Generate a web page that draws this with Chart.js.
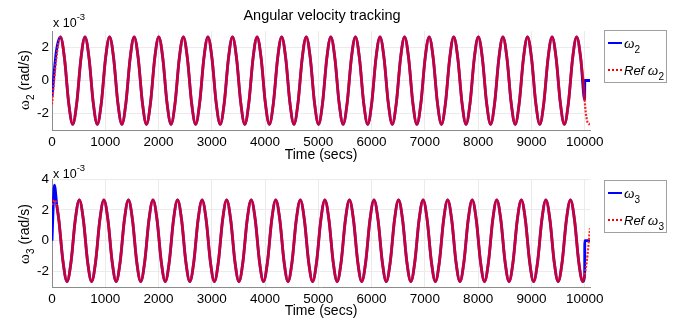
<!DOCTYPE html>
<html>
<head>
<meta charset="utf-8">
<script src="https://cdn.jsdelivr.net/npm/chart.js@4.4.1/dist/chart.umd.min.js"></script>
<style>
  html,body{margin:0;padding:0;background:#fff;}
  body{width:681px;height:322px;overflow:hidden;position:relative;font-family:"Liberation Sans",Arial,sans-serif;color:#000;}
  canvas{position:absolute;left:0;}
  #c1{top:0;}
  #c2{top:160px;}
  .txt{position:absolute;white-space:nowrap;line-height:16px;}
  .ctr{transform:translate(-50%,-50%);}
  .ytitle{position:absolute;white-space:nowrap;font-size:14px;line-height:16px;transform:translate(-50%,-50%) rotate(-90deg);}
  .om{font-family:"Liberation Serif",serif;font-size:15px;}
  .sb{font-size:10px;position:relative;top:5px;}
  .sp{font-size:9.5px;position:relative;top:-7px;}
  .lgbox{position:absolute;width:63px;height:53px;box-sizing:border-box;border:1px solid #a0a0a0;background:#fff;}
  .lgline{position:absolute;width:14px;height:0;}
  .lgtxt{position:absolute;white-space:nowrap;line-height:16px;font-style:italic;font-size:13px;}
</style>
</head>
<body>
<canvas id="c1" width="681" height="160"></canvas>
<canvas id="c2" width="681" height="162"></canvas>

<div class="txt ctr" style="left:322px;top:15px;font-size:14.5px;">Angular velocity tracking</div>

<div class="txt" style="left:53px;top:15px;font-size:12.5px;">x 10<span class="sp">-3</span></div>
<div class="txt" style="left:53px;top:166px;font-size:12.5px;">x 10<span class="sp">-3</span></div>

<div class="txt ctr" style="left:321px;top:154px;font-size:14px;">Time (secs)</div>
<div class="txt ctr" style="left:321px;top:310px;font-size:14px;">Time (secs)</div>

<div class="ytitle" style="left:25px;top:80px;"><span class="om">ω</span><span class="sb">2</span> (rad/s)</div>
<div class="ytitle" style="left:25px;top:234px;"><span class="om">ω</span><span class="sb">3</span> (rad/s)</div>

<div class="lgbox" style="left:604px;top:30px;"></div>
<div class="lgline" style="left:608px;top:42px;border-top:2.5px solid #0000ff;"></div>
<div class="lgtxt" style="left:624px;top:35px;"><span class="om">ω</span><span class="sb" style="font-style:normal">2</span></div>
<div class="lgline" style="left:608px;top:68.5px;border-top:2px dotted #ff0000;"></div>
<div class="lgtxt" style="left:624px;top:62px;">Ref <span class="om">ω</span><span class="sb" style="font-style:normal">2</span></div>

<div class="lgbox" style="left:604px;top:180px;"></div>
<div class="lgline" style="left:608px;top:192px;border-top:2.5px solid #0000ff;"></div>
<div class="lgtxt" style="left:624px;top:185px;"><span class="om">ω</span><span class="sb" style="font-style:normal">3</span></div>
<div class="lgline" style="left:608px;top:218.5px;border-top:2px dotted #ff0000;"></div>
<div class="lgtxt" style="left:624px;top:212px;">Ref <span class="om">ω</span><span class="sb" style="font-style:normal">3</span></div>

<script>
// ---------------- data (values in units of 1e-3 rad/s) ----------------
const xTicks = [0, 1000, 2000, 3000, 4000, 5000, 6000, 7000, 8000, 9000, 10000];
const yTicksTop = [-2, 0, 2];
const yTicksBottom = [-2, 0, 2, 4];

const timeTop = [
  0, 81,
  158, 235, 312, 389, 466, 543,
  619.5, 696.5, 773.5, 850.5, 927.5, 1004.5,
  1081, 1158, 1235, 1312, 1389, 1466,
  1542.5, 1619.5, 1696.5, 1773.5, 1850.5, 1927.5,
  2004, 2081, 2158, 2235, 2312, 2389,
  2465.5, 2542.5, 2619.5, 2696.5, 2773.5, 2850.5,
  2927, 3004, 3081, 3158, 3235, 3312,
  3388.5, 3465.5, 3542.5, 3619.5, 3696.5, 3773.5,
  3850, 3927, 4004, 4081, 4158, 4235,
  4311.5, 4388.5, 4465.5, 4542.5, 4619.5, 4696.5,
  4773, 4850, 4927, 5004, 5081, 5158,
  5234.5, 5311.5, 5388.5, 5465.5, 5542.5, 5619.5,
  5696, 5773, 5850, 5927, 6004, 6081,
  6157.5, 6234.5, 6311.5, 6388.5, 6465.5, 6542.5,
  6619, 6696, 6773, 6850, 6927, 7004,
  7080.5, 7157.5, 7234.5, 7311.5, 7388.5, 7465.5,
  7542, 7619, 7696, 7773, 7850, 7927,
  8003.5, 8080.5, 8157.5, 8234.5, 8311.5, 8388.5,
  8465, 8542, 8619, 8696, 8773, 8850,
  8926.5, 9003.5, 9080.5, 9157.5, 9234.5, 9311.5,
  9388, 9465, 9542, 9619, 9696, 9773,
  9849.5, 9926.5,
  10000, 10002, 10080, 10100
];

const omega2 = [
  -1.0, 1.75,
  2.65, 1.33, -1.33, -2.65, -1.33, 1.33,
  2.65, 1.33, -1.33, -2.65, -1.33, 1.33,
  2.65, 1.33, -1.33, -2.65, -1.33, 1.33,
  2.65, 1.33, -1.33, -2.65, -1.33, 1.33,
  2.65, 1.33, -1.33, -2.65, -1.33, 1.33,
  2.65, 1.33, -1.33, -2.65, -1.33, 1.33,
  2.65, 1.33, -1.33, -2.65, -1.33, 1.33,
  2.65, 1.33, -1.33, -2.65, -1.33, 1.33,
  2.65, 1.33, -1.33, -2.65, -1.33, 1.33,
  2.65, 1.33, -1.33, -2.65, -1.33, 1.33,
  2.65, 1.33, -1.33, -2.65, -1.33, 1.33,
  2.65, 1.33, -1.33, -2.65, -1.33, 1.33,
  2.65, 1.33, -1.33, -2.65, -1.33, 1.33,
  2.65, 1.33, -1.33, -2.65, -1.33, 1.33,
  2.65, 1.33, -1.33, -2.65, -1.33, 1.33,
  2.65, 1.33, -1.33, -2.65, -1.33, 1.33,
  2.65, 1.33, -1.33, -2.65, -1.33, 1.33,
  2.65, 1.33, -1.33, -2.65, -1.33, 1.33,
  2.65, 1.33, -1.33, -2.65, -1.33, 1.33,
  2.65, 1.33, -1.33, -2.65, -1.33, 1.33,
  2.65, 1.33, -1.33, -2.65, -1.33, 1.33,
  2.65, 1.33,
  -1.17, 0, 0, 0
];

const omega2Ref = [
  -1.44, 1.33,
  2.65, 1.33, -1.33, -2.65, -1.33, 1.33,
  2.65, 1.33, -1.33, -2.65, -1.33, 1.33,
  2.65, 1.33, -1.33, -2.65, -1.33, 1.33,
  2.65, 1.33, -1.33, -2.65, -1.33, 1.33,
  2.65, 1.33, -1.33, -2.65, -1.33, 1.33,
  2.65, 1.33, -1.33, -2.65, -1.33, 1.33,
  2.65, 1.33, -1.33, -2.65, -1.33, 1.33,
  2.65, 1.33, -1.33, -2.65, -1.33, 1.33,
  2.65, 1.33, -1.33, -2.65, -1.33, 1.33,
  2.65, 1.33, -1.33, -2.65, -1.33, 1.33,
  2.65, 1.33, -1.33, -2.65, -1.33, 1.33,
  2.65, 1.33, -1.33, -2.65, -1.33, 1.33,
  2.65, 1.33, -1.33, -2.65, -1.33, 1.33,
  2.65, 1.33, -1.33, -2.65, -1.33, 1.33,
  2.65, 1.33, -1.33, -2.65, -1.33, 1.33,
  2.65, 1.33, -1.33, -2.65, -1.33, 1.33,
  2.65, 1.33, -1.33, -2.65, -1.33, 1.33,
  2.65, 1.33, -1.33, -2.65, -1.33, 1.33,
  2.65, 1.33, -1.33, -2.65, -1.33, 1.33,
  2.65, 1.33, -1.33, -2.65, -1.33, 1.33,
  2.65, 1.33, -1.33, -2.65, -1.33, 1.33,
  2.65, 1.33,
  -1.17, -1.3, -2.65, -2.6
];

const timeBottom = [
  0, 20, 45, 90,
  129, 206, 282.5, 359, 436,
  513, 590, 667, 743.5, 820, 897,
  974, 1051, 1128, 1204.5, 1281, 1358,
  1435, 1512, 1589, 1665.5, 1742, 1819,
  1896, 1973, 2050, 2126.5, 2203, 2280,
  2357, 2434, 2511, 2587.5, 2664, 2741,
  2818, 2895, 2972, 3048.5, 3125, 3202,
  3279, 3356, 3433, 3509.5, 3586, 3663,
  3740, 3817, 3894, 3970.5, 4047, 4124,
  4201, 4278, 4355, 4431.5, 4508, 4585,
  4662, 4739, 4816, 4892.5, 4969, 5046,
  5123, 5200, 5277, 5353.5, 5430, 5507,
  5584, 5661, 5738, 5814.5, 5891, 5968,
  6045, 6122, 6199, 6275.5, 6352, 6429,
  6506, 6583, 6660, 6736.5, 6813, 6890,
  6967, 7044, 7121, 7197.5, 7274, 7351,
  7428, 7505, 7582, 7658.5, 7735, 7812,
  7889, 7966, 8043, 8119.5, 8196, 8273,
  8350, 8427, 8504, 8580.5, 8657, 8734,
  8811, 8888, 8965, 9041.5, 9118, 9195,
  9272, 9349, 9426, 9502.5, 9579, 9656,
  9733, 9810, 9887, 9963.5,
  10000, 10002, 10040, 10100
];

const omega3 = [
  0, 2.0, 3.6, 2.3,
  1.33, -1.33, -2.65, -1.33, 1.33,
  2.65, 1.33, -1.33, -2.65, -1.33, 1.33,
  2.65, 1.33, -1.33, -2.65, -1.33, 1.33,
  2.65, 1.33, -1.33, -2.65, -1.33, 1.33,
  2.65, 1.33, -1.33, -2.65, -1.33, 1.33,
  2.65, 1.33, -1.33, -2.65, -1.33, 1.33,
  2.65, 1.33, -1.33, -2.65, -1.33, 1.33,
  2.65, 1.33, -1.33, -2.65, -1.33, 1.33,
  2.65, 1.33, -1.33, -2.65, -1.33, 1.33,
  2.65, 1.33, -1.33, -2.65, -1.33, 1.33,
  2.65, 1.33, -1.33, -2.65, -1.33, 1.33,
  2.65, 1.33, -1.33, -2.65, -1.33, 1.33,
  2.65, 1.33, -1.33, -2.65, -1.33, 1.33,
  2.65, 1.33, -1.33, -2.65, -1.33, 1.33,
  2.65, 1.33, -1.33, -2.65, -1.33, 1.33,
  2.65, 1.33, -1.33, -2.65, -1.33, 1.33,
  2.65, 1.33, -1.33, -2.65, -1.33, 1.33,
  2.65, 1.33, -1.33, -2.65, -1.33, 1.33,
  2.65, 1.33, -1.33, -2.65, -1.33, 1.33,
  2.65, 1.33, -1.33, -2.65, -1.33, 1.33,
  2.65, 1.33, -1.33, -2.65, -1.33, 1.33,
  2.65, 1.33, -1.33, -2.65,
  -2.2, 0, 0, 0
];

const omega3Ref = [
  2.3, 2.5, 2.64, 2.3,
  1.33, -1.33, -2.65, -1.33, 1.33,
  2.65, 1.33, -1.33, -2.65, -1.33, 1.33,
  2.65, 1.33, -1.33, -2.65, -1.33, 1.33,
  2.65, 1.33, -1.33, -2.65, -1.33, 1.33,
  2.65, 1.33, -1.33, -2.65, -1.33, 1.33,
  2.65, 1.33, -1.33, -2.65, -1.33, 1.33,
  2.65, 1.33, -1.33, -2.65, -1.33, 1.33,
  2.65, 1.33, -1.33, -2.65, -1.33, 1.33,
  2.65, 1.33, -1.33, -2.65, -1.33, 1.33,
  2.65, 1.33, -1.33, -2.65, -1.33, 1.33,
  2.65, 1.33, -1.33, -2.65, -1.33, 1.33,
  2.65, 1.33, -1.33, -2.65, -1.33, 1.33,
  2.65, 1.33, -1.33, -2.65, -1.33, 1.33,
  2.65, 1.33, -1.33, -2.65, -1.33, 1.33,
  2.65, 1.33, -1.33, -2.65, -1.33, 1.33,
  2.65, 1.33, -1.33, -2.65, -1.33, 1.33,
  2.65, 1.33, -1.33, -2.65, -1.33, 1.33,
  2.65, 1.33, -1.33, -2.65, -1.33, 1.33,
  2.65, 1.33, -1.33, -2.65, -1.33, 1.33,
  2.65, 1.33, -1.33, -2.65, -1.33, 1.33,
  2.65, 1.33, -1.33, -2.65, -1.33, 1.33,
  2.65, 1.33, -1.33, -2.65,
  -2.2, -2.15, -1.33, 0.8
];

// ---------------- chart construction ----------------
const pts = (ts, vs) => ts.map((t, i) => ({ x: t, y: vs[i] }));
const tickFont = { family: '"Liberation Sans", Arial, sans-serif', size: 13.5 };

function makeChart(id, times, blue, red, yMin, yMax, yTicks, padTop, xHeight) {
  // where the reference sits exactly on the tracked signal the dotted red line
  // blends with the blue one underneath; where they split, the red dots show alone
  const apart = ctx => blue[ctx.p0DataIndex] !== red[ctx.p0DataIndex] ||
                       blue[ctx.p1DataIndex] !== red[ctx.p1DataIndex];
  return new Chart(document.getElementById(id), {
    type: 'line',
    data: {
      datasets: [
        { data: pts(times, blue), borderColor: '#0000ff', borderWidth: 2.8,
          pointRadius: 0, cubicInterpolationMode: 'monotone', order: 1 },
        { data: pts(times, red), borderColor: 'rgba(255,0,0,0.78)', borderWidth: 2.8,
          pointRadius: 0, cubicInterpolationMode: 'monotone', order: 0,
          segment: {
            borderColor: ctx => apart(ctx) ? '#ff2020' : undefined,
            borderDash: ctx => apart(ctx) ? [2, 1.5] : undefined,
            borderWidth: ctx => apart(ctx) ? 2.2 : undefined
          } }
      ]
    },
    options: {
      responsive: false,
      animation: false,
      events: [],
      layout: { padding: { top: padTop, right: 91, left: 0, bottom: 0 } },
      plugins: { legend: { display: false }, tooltip: { enabled: false }, title: { display: false } },
      scales: {
        x: {
          type: 'linear', min: 0, max: 10100,
          afterBuildTicks: s => { s.ticks = xTicks.map(v => ({ value: v })); },
          afterFit: s => { s.height = xHeight; },
          grid: { color: '#ebebeb', lineWidth: 1, drawTicks: false },
          border: { color: '#8c8c8c', width: 1 },
          ticks: { color: '#000', font: tickFont, padding: 4, maxRotation: 0, autoSkip: false,
                   callback: v => String(v) }
        },
        y: {
          type: 'linear', min: yMin, max: yMax,
          afterBuildTicks: s => { s.ticks = yTicks.map(v => ({ value: v })); },
          afterFit: s => { s.width = 52; },
          grid: { color: '#ebebeb', lineWidth: 1, drawTicks: false },
          border: { color: '#8c8c8c', width: 1 },
          ticks: { color: '#000', font: tickFont, padding: 3, callback: v => String(v) }
        }
      }
    }
  });
}

makeChart('c1', timeTop, omega2, omega2Ref, -3, 3, yTicksTop, 31, 30);
makeChart('c2', timeBottom, omega3, omega3Ref, -3, 4, yTicksBottom, 19, 35);
</script>
</body>
</html>
